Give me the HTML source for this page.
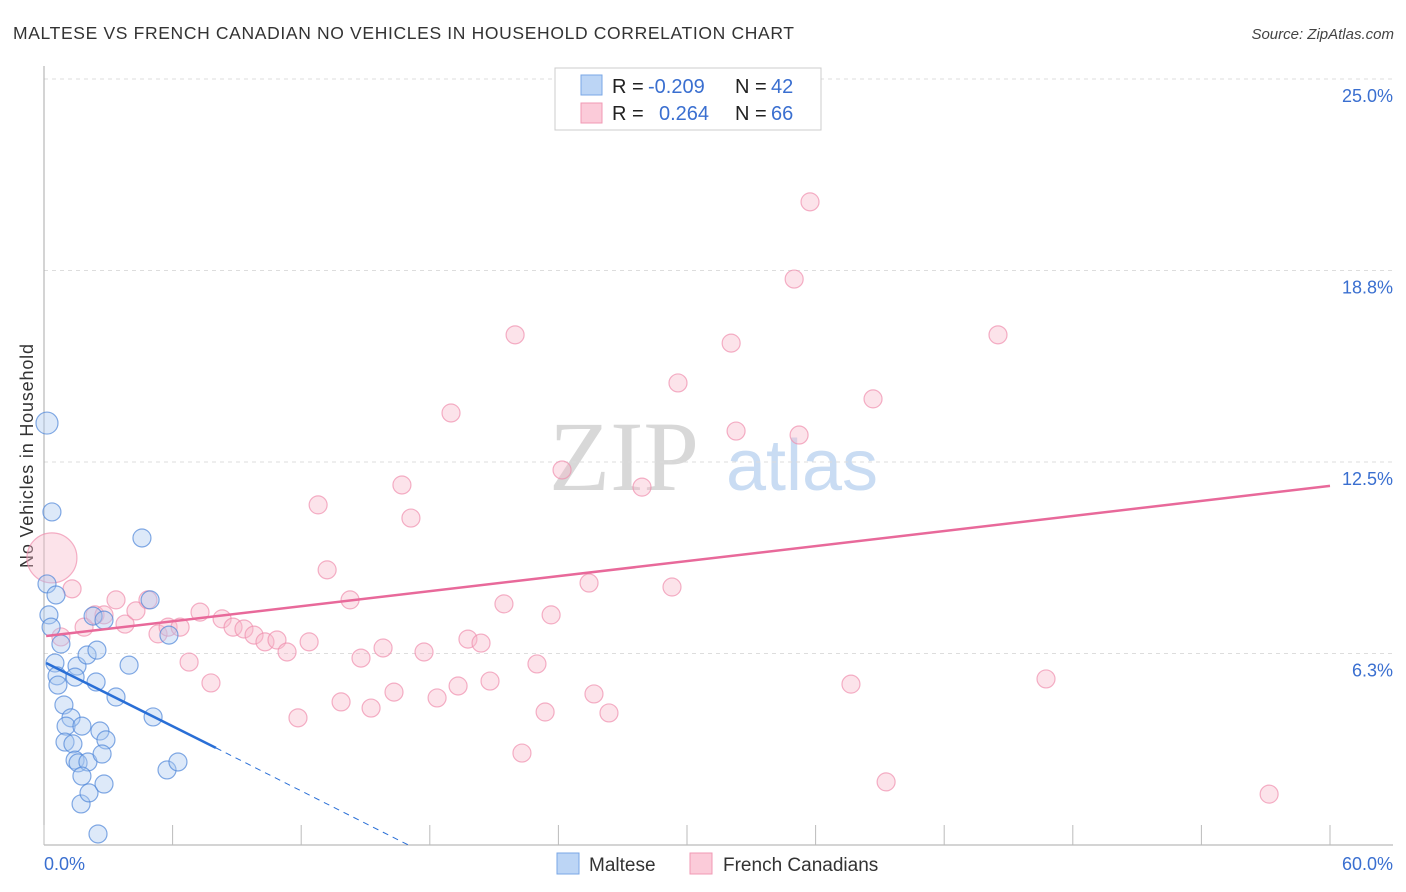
<!DOCTYPE html>
<html><head><meta charset="utf-8"><style>
body{margin:0;background:#fff;font-family:"Liberation Sans",sans-serif;}
#wrap{position:relative;width:1406px;height:892px;overflow:hidden;}
</style></head><body>
<div id="wrap">
<svg id="svg" width="1406" height="892" xmlns="http://www.w3.org/2000/svg">
<text x="13" y="39" font-size="17.5" fill="#333" textLength="781" lengthAdjust="spacing">MALTESE VS FRENCH CANADIAN NO VEHICLES IN HOUSEHOLD CORRELATION CHART</text>
<text x="1394" y="39" font-size="15" fill="#444" font-style="italic" text-anchor="end">Source: ZipAtlas.com</text>
<text x="33" y="456" font-size="18" fill="#333" text-anchor="middle" textLength="224" transform="rotate(-90 33 456)">No Vehicles in Household</text>
<text x="624" y="490" font-size="100" fill="#d8d8d8" font-family="Liberation Serif,serif" text-anchor="middle">ZIP</text>
<text x="802" y="490" font-size="72" fill="#c9dcf3" text-anchor="middle">atlas</text>
<g id="grid"></g><g id="axes"></g><g id="pts"></g><g id="lines"></g>
<g>
<rect x="555" y="68" width="266" height="62" fill="#fff" stroke="#ccc"/>
<rect x="581" y="75" width="21" height="20" fill="#bcd5f5" stroke="#7aa7e6"/>
<rect x="581" y="103" width="21" height="20" fill="#fbcbd9" stroke="#f09ab4"/>
<text y="93" font-size="20" fill="#222"><tspan x="612">R = </tspan><tspan x="648" fill="#3a6fd0">-0.209</tspan><tspan x="735">N = </tspan><tspan x="771" fill="#3a6fd0">42</tspan></text>
<text y="120" font-size="20" fill="#222"><tspan x="612">R = </tspan><tspan x="659" fill="#3a6fd0">0.264</tspan><tspan x="735">N = </tspan><tspan x="771" fill="#3a6fd0">66</tspan></text>
</g>
<g>
<rect x="557" y="853" width="22" height="21" fill="#bcd5f5" stroke="#7aa7e6"/>
<text x="589" y="871" font-size="19" fill="#333">Maltese</text>
<rect x="690" y="853" width="22" height="21" fill="#fbcbd9" stroke="#f09ab4"/>
<text x="723" y="871" font-size="19" fill="#333">French Canadians</text>
</g>
</svg></div>
<script>
const yTicks=[6.25,12.5,18.75,25];
const yTickLabels=["6.3%","12.5%","18.8%","25.0%"];
const xTicks=[0,6,12,18,24,30,36,42,48,54,60];
const xTickLabels=["0.0%","60.0%"];
const malteseX=[0.14,0.37,0.14,0.56,0.23,0.33,0.79,0.51,0.61,0.65,1.54,1.45,0.93,1.26,1.03,1.77,0.98,1.35,1.45,1.59,2.05,1.77,1.73,2.10,2.61,2.89,2.71,2.80,2.52,2.01,2.47,2.43,3.36,2.29,2.80,3.97,4.57,4.95,5.83,5.09,5.74,6.25];
const malteseY=[13.77,10.87,8.52,8.16,7.51,7.11,6.56,5.94,5.52,5.22,5.84,5.48,4.57,4.15,3.88,3.88,3.36,3.30,2.77,2.68,2.71,2.25,1.34,1.70,3.72,3.43,2.97,1.99,0.36,6.20,6.36,5.32,4.83,7.47,7.34,5.87,10.02,8.00,6.85,4.18,2.45,2.71];
const frenchX=[0.37,1.31,0.79,1.87,2.38,2.80,3.36,3.78,4.29,4.85,5.32,5.79,6.35,6.77,7.28,7.79,8.31,8.82,9.33,9.80,10.31,10.87,11.34,11.85,12.37,12.79,13.21,13.86,14.28,14.79,15.26,15.82,16.33,16.70,17.12,17.73,18.34,18.99,19.32,19.78,20.39,20.81,21.46,21.98,22.30,23.00,23.38,23.66,24.17,25.43,25.66,26.36,27.90,29.30,29.58,32.06,32.29,35.00,35.23,35.74,37.65,38.68,39.29,44.51,46.75,57.16];
const frenchY=[9.37,8.36,6.79,7.11,7.51,7.51,8.00,7.21,7.64,8.00,6.89,7.11,7.11,5.97,7.60,5.29,7.38,7.11,7.05,6.85,6.63,6.69,6.30,4.15,6.63,11.10,8.98,4.67,8.00,6.10,4.47,6.43,4.99,11.75,10.67,6.30,4.80,14.10,5.19,6.72,6.59,5.35,7.87,16.65,3.00,5.91,4.34,7.51,12.24,8.55,4.93,4.31,11.68,8.42,15.08,16.38,13.51,18.47,13.38,20.99,5.25,14.56,2.06,16.65,5.42,1.66];
const malteseTrend=[0.1,5.94,8.02,3.17,17.0,0];
const frenchTrend=[0.1,6.82,60,11.72];
const NS="http://www.w3.org/2000/svg";
const X=v=>44+v/60*1286, Y=v=>845-v/6.25*191.5;
function mk(t,a,p){const e=document.createElementNS(NS,t);for(const k in a)e.setAttribute(k,a[k]);p.appendChild(e);return e;}
const grid=document.getElementById('grid'),axes=document.getElementById('axes'),pts=document.getElementById('pts'),lines=document.getElementById('lines');
yTicks.forEach((t,i)=>{
 const l=mk('line',{x1:44,x2:1393,y1:Y(t),y2:Y(t),stroke:'#ddd','stroke-dasharray':'4,4'},grid);
 
 
 const tx=mk('text',{x:1393,y:Y(t)+23,'font-size':18,fill:'#3a6fd0','text-anchor':'end'},axes);
 tx.textContent=yTickLabels[i];
 
 
});
const ya=mk('line',{x1:44,x2:44,y1:66,y2:845,stroke:'#aaa'},axes);


const xa=mk('line',{x1:44,x2:1393,y1:845,y2:845,stroke:'#aaa'},axes);


xTicks.forEach(t=>{
 const l=mk('line',{x1:X(t),x2:X(t),y1:825,y2:845,stroke:'#bbb'},axes);
 
 
});
[[0,'start',44],[60,'end',1393]].forEach((d,i)=>{
 const tx=mk('text',{x:d[2],y:870,'font-size':18,fill:'#3a6fd0','text-anchor':d[1]},axes);
 tx.textContent=xTickLabels[i];
 
 
});
function dots(xs,ys,fill,stroke,name,bigIdx,bigR){
 xs.forEach((x,i)=>{
  const r=i===bigIdx?bigR:9;
  const c=mk('circle',{cx:X(x),cy:Y(ys[i]),r:r,fill:fill,'fill-opacity':0.4,stroke:stroke,'stroke-opacity':0.7,'stroke-width':1.2},pts);
  
  
 });
}
dots(frenchX,frenchY,'#f8b8cb','#ef8fae','french-canadian-point',0,25);
dots(malteseX,malteseY,'#a9c8f1','#4f86d9','maltese-point',0,11);
const bl=mk('line',{x1:X(malteseTrend[0]),y1:Y(malteseTrend[1]),x2:X(malteseTrend[2]),y2:Y(malteseTrend[3]),stroke:'#2a6fd6','stroke-width':2.5},lines);


const bd=mk('line',{x1:X(malteseTrend[2]),y1:Y(malteseTrend[3]),x2:X(malteseTrend[4]),y2:Y(malteseTrend[5]),stroke:'#2a6fd6','stroke-width':1,'stroke-dasharray':'6,5'},lines);


const pl=mk('line',{x1:X(frenchTrend[0]),y1:Y(frenchTrend[1]),x2:X(frenchTrend[2]),y2:Y(frenchTrend[3]),stroke:'#e8699a','stroke-width':2.5},lines);


</script>
</body></html>
